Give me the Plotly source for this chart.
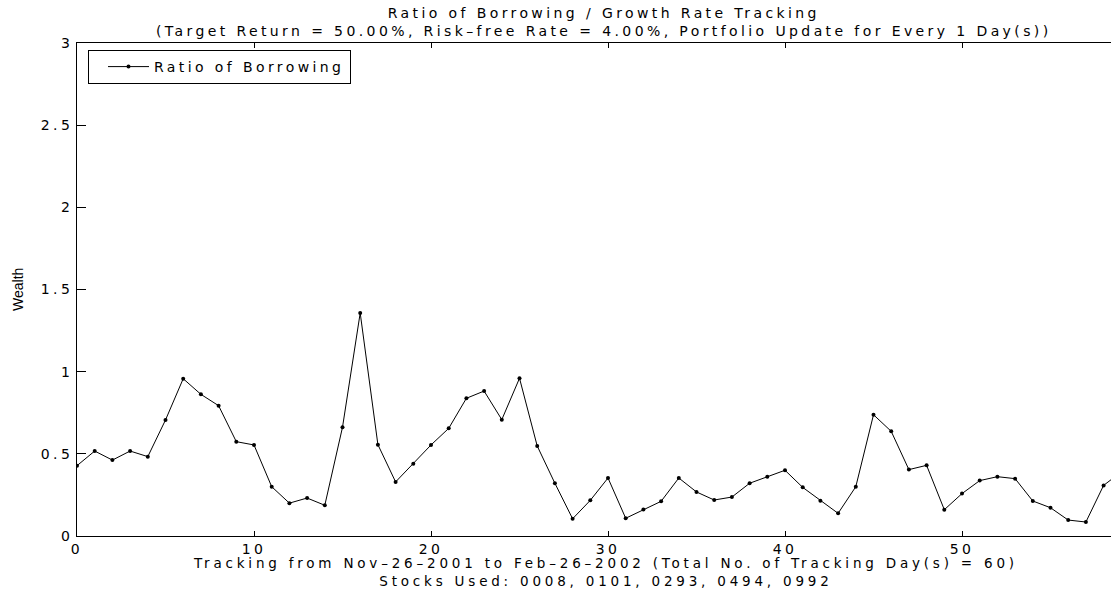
import plotly.graph_objects as go

# Tracking day index and ratio of borrowing on each day
days = list(range(60))
ratio = [0.428, 0.517, 0.462, 0.517, 0.483, 0.706, 0.957, 0.862, 0.793, 0.574,
         0.554, 0.300, 0.200, 0.231, 0.187, 0.662, 1.357, 0.556, 0.329, 0.440,
         0.554, 0.655, 0.838, 0.882, 0.708, 0.960, 0.548, 0.321, 0.105, 0.217,
         0.353, 0.108, 0.162, 0.211, 0.353, 0.268, 0.219, 0.237, 0.321, 0.361,
         0.400, 0.296, 0.215, 0.138, 0.300, 0.738, 0.637, 0.404, 0.430, 0.160,
         0.258, 0.337, 0.361, 0.349, 0.213, 0.172, 0.097, 0.085, 0.308, 0.390]

y_ticks = [0, 0.5, 1, 1.5, 2, 2.5, 3]
y_tick_labels = ["0", "0.5", "1", "1.5", "2", "2.5", "3"]
x_ticks = [0, 10, 20, 30, 40, 50]
x_tick_labels = ["0", "10", "20", "30", "40", "50"]

title_lines = [
    "Ratio of Borrowing / Growth Rate Tracking",
    "(Target Return = 50.00%, Risk\u2013free Rate = 4.00%, Portfolio Update for Every 1 Day(s))",
]
xlabel_lines = [
    "Tracking from Nov\u201326\u20132001 to Feb\u201326\u20132002 (Total No. of Tracking Day(s) = 60)",
    "Stocks Used: 0008, 0101, 0293, 0494, 0992",
]

W, H = 1111, 590
L, R, T, B = 77, 0, 43, 54
FONT = "DejaVu Sans, Liberation Sans, sans-serif"
FS = 14
LS = 3.4  # letter spacing (px) for the wide lettering


def wide(s, ls=LS):
    return f'<span style="letter-spacing:{ls}px">{s}</span>'


def px_x(p):
    return (p - L) / (W - L - R)


def px_y(p):
    return 1 - (p - T) / (H - T - B)


fig = go.Figure()
fig.add_trace(go.Scatter(
    x=days, y=ratio, mode="lines+markers", name=wide("Ratio of Borrowing"),
    line=dict(color="black", width=1),
    marker=dict(color="black", size=4),
))

fig.update_layout(
    width=W, height=H,
    margin=dict(l=L, r=R, t=T, b=B),
    paper_bgcolor="white", plot_bgcolor="white",
    font=dict(family=FONT, size=FS, color="black"),
    showlegend=True,
    legend=dict(
        x=px_x(88), y=px_y(50), xanchor="left", yanchor="top",
        bgcolor="white", bordercolor="black", borderwidth=1,
        font=dict(family=FONT, size=FS, color="black"),
        itemwidth=41, indentation=14, tracegroupgap=0,
    ),
    xaxis=dict(
        range=[0, (W - L) / 17.7], tickvals=x_ticks,
        ticktext=[wide(t) for t in x_tick_labels],
        ticks="inside", ticklen=5, tickcolor="black",
        showline=True, linecolor="black", linewidth=1, mirror="ticks",
        showgrid=False, zeroline=False,
        tickfont=dict(family=FONT, size=FS),
    ),
    yaxis=dict(
        range=[0, 3], tickvals=y_ticks,
        ticktext=[wide(t) for t in y_tick_labels],
        ticks="inside", ticklen=9, tickcolor="black",
        showline=True, linecolor="black", linewidth=1,
        showgrid=False, zeroline=False,
        tickfont=dict(family=FONT, size=FS),
    ),
)

# Two-line title above the axes and two-line axis caption below
for lines, cx, cy, fs, ls in [(title_lines, 604, 21.5, FS, LS),
                              (xlabel_lines, 605, 572, 13.5, 3.8)]:
    fig.add_annotation(
        text="<br>".join(wide(s, ls) for s in lines),
        x=px_x(cx), y=px_y(cy), xref="paper", yref="paper",
        xanchor="center", yanchor="middle", showarrow=False, align="center",
        borderpad=0,
        font=dict(family=FONT, size=fs, color="black"),
    )

fig.add_annotation(
    text="Wealth", x=px_x(18), y=px_y(290), xref="paper", yref="paper",
    xanchor="center", yanchor="middle", showarrow=False, textangle=-90,
    font=dict(family="Liberation Sans, Arial, sans-serif", size=14, color="black"),
)

fig.write_html("out.html")
